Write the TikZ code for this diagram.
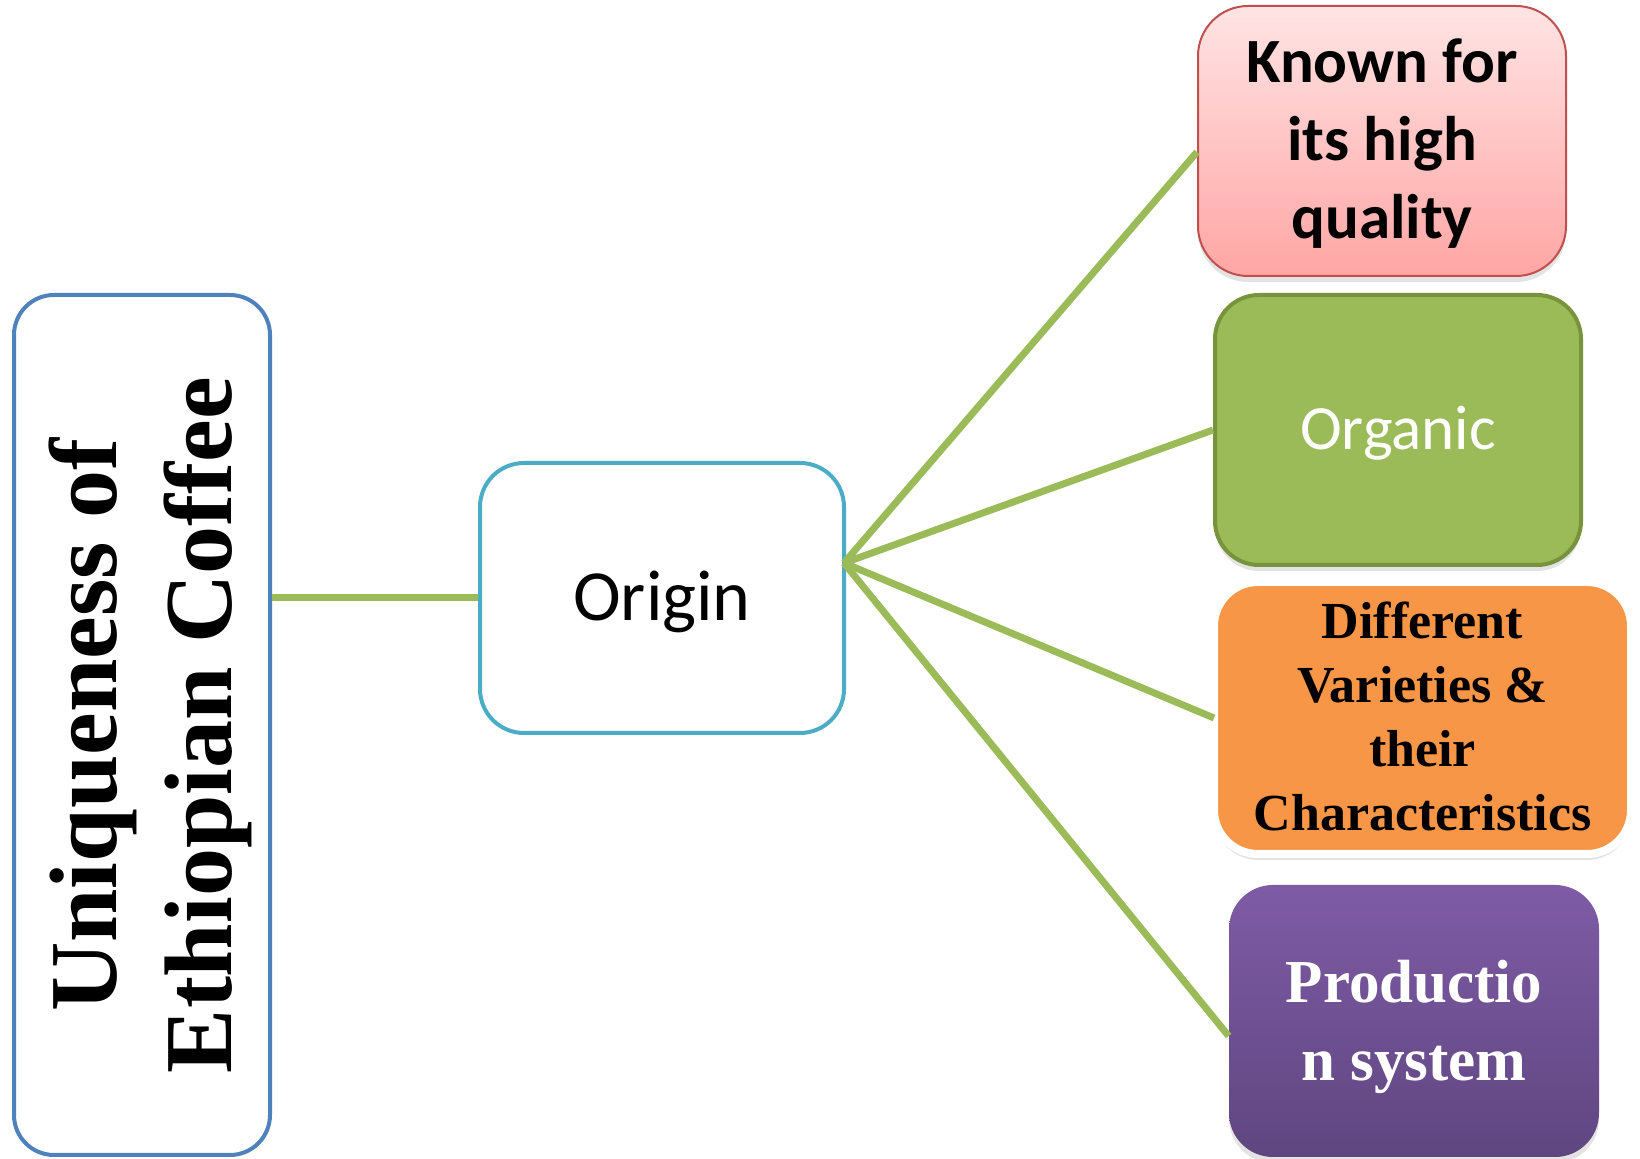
\documentclass[tikz,border=0pt]{standalone}
\usepackage{fontspec}
\usepackage{xcolor}
\usepackage{tikz}
\usetikzlibrary{shapes.geometric, arrows, shadows}
\newfontfamily\calibfont{Carlito}
\newfontfamily\timesfont{Liberation Serif}
\definecolor{linkgreen}{HTML}{9BBB59}
\definecolor{titleblue}{HTML}{4F81BD}
\definecolor{originblue}{HTML}{4BACC6}
\definecolor{redline}{HTML}{C0504D}
\definecolor{pinktop}{HTML}{FFE4E4}
\definecolor{pinkbot}{HTML}{FFA6A5}
\definecolor{organicfill}{HTML}{9BBB59}
\definecolor{organicline}{HTML}{77933C}
\definecolor{varietyfill}{HTML}{F79646}
\definecolor{purpletop}{HTML}{7F5BA6}
\definecolor{purplebot}{HTML}{5F4680}
\tikzstyle{box} = [rectangle, rounded corners=22pt, inner sep=0pt, align=center, text depth=0pt]
\tikzstyle{leaf} = [box, minimum width=184pt, minimum height=135pt,
  drop shadow={opacity=0.22, shadow xshift=0pt, shadow yshift=-3pt}]
\tikzstyle{link} = [line width=3.5pt, draw=linkgreen]

\begin{document}
\begin{tikzpicture}[x=0.5pt,y=-0.5pt]
	\useasboundingbox (0,0) rectangle (1640,1159);

	% Left title box, text turned upright:
	\node [box, rotate=90, rounded corners=20pt, draw=titleblue, line width=2pt, fill=white,
	       minimum width=430pt, minimum height=128pt, text height=89.5pt,
	       font=\timesfont\bfseries\fontsize{48}{57.5}\selectfont]
	      (title) at (142,725) {Uniqueness of\\Ethiopian Coffee};

	% Middle box:
	\node [box, draw=originblue, line width=2pt, fill=white,
	       minimum width=182pt, minimum height=135pt, text height=23pt,
	       font=\calibfont\fontsize{36}{43}\selectfont]
	      (origin) at (662,598) {Origin};

	% Right boxes:
	\node [leaf, rounded corners=25pt, draw=redline, line width=1pt, top color=pinktop, bottom color=pinkbot,
	       text height=98pt,
	       font=\calibfont\bfseries\fontsize{31.5}{39}\selectfont]
	      (known) at (1382,141) {Known for\\its high\\quality};
	\node [leaf, draw=organicline, line width=2pt, fill=organicfill, text=white,
	       minimum width=183pt, text height=20pt,
	       font=\calibfont\fontsize{31.5}{38}\selectfont]
	      (organic) at (1398,430) {Organic};
	\node [leaf, draw=white, line width=4pt, fill=varietyfill,
	       minimum width=208.5pt, minimum height=136pt, text height=113pt,
	       font=\timesfont\bfseries\fontsize{26}{32}\selectfont]
	      (varieties) at (1422.5,718) {Different\\Varieties \&\\their\\Characteristics};
	\node [leaf, top color=purpletop, bottom color=purplebot, text=white,
	       minimum width=185pt, minimum height=136pt, text height=59pt,
	       font=\timesfont\bfseries\fontsize{30.5}{39}\selectfont]
	      (production) at (1414,1021) {Productio\\n system};

	% Connectors:
	\coordinate (hub) at (844,563);
	\draw [link] (title.south |- origin.west) -- (origin.west);
	\draw [link] (hub) -- ([yshift=-5.5pt]known.west);
	\draw [link] (hub) -- (organic.west);
	\draw [link] (hub) -- ([xshift=2pt]varieties.west);
	\draw [link] (hub) -- ([yshift=-7.5pt]production.west);
\end{tikzpicture}
\end{document}
